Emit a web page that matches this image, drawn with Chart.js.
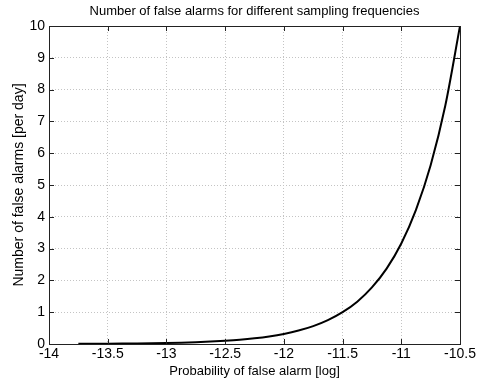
<!DOCTYPE html>
<html>
<head>
<meta charset="utf-8">
<script src="https://cdn.jsdelivr.net/npm/chart.js@4"></script>
<style>
  html, body { margin: 0; padding: 0; background: #fff; }
  #wrap { width: 481px; height: 383px; }
</style>
</head>
<body>
<div id="wrap"><canvas id="alarms"></canvas></div>
<script>
// log10 of the false alarm probability
const logProb = [-13.75, -13.625, -13.5, -13.375, -13.25, -13.125, -13, -12.875, -12.75,
  -12.625, -12.5, -12.375, -12.25, -12.125, -12, -11.875, -11.75, -11.625, -11.5,
  -11.375, -11.25, -11.125, -11, -10.875, -10.75, -10.625, -10.5];
// false alarms per day
const alarmsPerDay = [0.0056, 0.0075, 0.010, 0.0133, 0.0178, 0.0237, 0.0316, 0.0422, 0.0562,
  0.075, 0.1, 0.133, 0.178, 0.237, 0.316, 0.422, 0.562, 0.75, 1.0,
  1.33, 1.78, 2.37, 3.16, 4.22, 5.62, 7.5, 10];
const xTicks = [-14, -13.5, -13, -12.5, -12, -11.5, -11, -10.5];
const yTicks = [0, 1, 2, 3, 4, 5, 6, 7, 8, 9, 10];

const FONT = "'Liberation Sans', Arial, sans-serif";

// box around the axes with short inward tick marks on all four sides
const axesBox = {
  id: "axesBox",
  afterDatasetsDraw(chart) {
    const { ctx, chartArea: a, scales } = chart;
    const len = 5;
    ctx.save();
    ctx.strokeStyle = "#222";
    ctx.lineWidth = 1;
    ctx.beginPath();
    xTicks.forEach(v => {
      const px = Math.round(scales.x.getPixelForValue(v)) + 0.5;
      ctx.moveTo(px, a.bottom); ctx.lineTo(px, a.bottom - len);
      ctx.moveTo(px, a.top); ctx.lineTo(px, a.top + len);
    });
    yTicks.forEach(v => {
      const py = Math.round(scales.y.getPixelForValue(v)) + 0.5;
      ctx.moveTo(a.left, py); ctx.lineTo(a.left + len, py);
      ctx.moveTo(a.right, py); ctx.lineTo(a.right - len, py);
    });
    ctx.stroke();
    ctx.strokeRect(Math.round(a.left) + 0.5, Math.round(a.top) + 0.5,
      Math.round(a.right - a.left), Math.round(a.bottom - a.top));
    ctx.restore();
  }
};

const points = logProb.map((x, i) => ({ x, y: alarmsPerDay[i] }));

new Chart(document.getElementById("alarms"), {
  type: "line",
  data: {
    datasets: [{
      data: points,
      borderColor: "#000",
      borderWidth: 2,
      pointRadius: 0,
      cubicInterpolationMode: "monotone",
      fill: false
    }]
  },
  options: {
    responsive: true,
    maintainAspectRatio: false,
    animation: false,
    layout: { padding: { left: 0, right: 21, top: 0, bottom: 0 } },
    plugins: {
      legend: { display: false },
      tooltip: { enabled: false },
      title: {
        display: true,
        fullSize: false,
        text: "Number of false alarms for different sampling frequencies",
        color: "#000",
        font: { family: FONT, size: 13, weight: "normal" },
        padding: { top: 4, bottom: 6.4 }
      }
    },
    scales: {
      x: {
        type: "linear",
        min: -14,
        max: -10.5,
        afterBuildTicks: s => { s.ticks = xTicks.map(v => ({ value: v })); },
        afterFit: s => { s.height = 39; },
        grid: { color: "#c4c4c4", drawTicks: false },
        border: { display: false, dash: [1, 2] },
        ticks: {
          color: "#000", padding: 2, maxRotation: 0,
          font: { family: FONT, size: 14 },
          callback: v => String(v)
        },
        title: {
          display: true,
          text: "Probability of false alarm [log]",
          color: "#000",
          font: { family: FONT, size: 13 },
          padding: { top: 0, bottom: 4 }
        }
      },
      y: {
        min: 0,
        max: 10,
        afterBuildTicks: s => { s.ticks = yTicks.map(v => ({ value: v })); },
        afterFit: s => { s.width = 49; },
        grid: { color: "#c4c4c4", drawTicks: false },
        border: { display: false, dash: [1, 2] },
        ticks: {
          color: "#000", padding: 4,
          font: { family: FONT, size: 14 },
          callback: v => String(v)
        },
        title: {
          display: true,
          text: "Number of false alarms [per day]",
          color: "#000",
          font: { family: FONT, size: 14 },
          padding: { top: 11, bottom: 0 }
        }
      }
    }
  },
  plugins: [axesBox]
});
</script>
</body>
</html>
